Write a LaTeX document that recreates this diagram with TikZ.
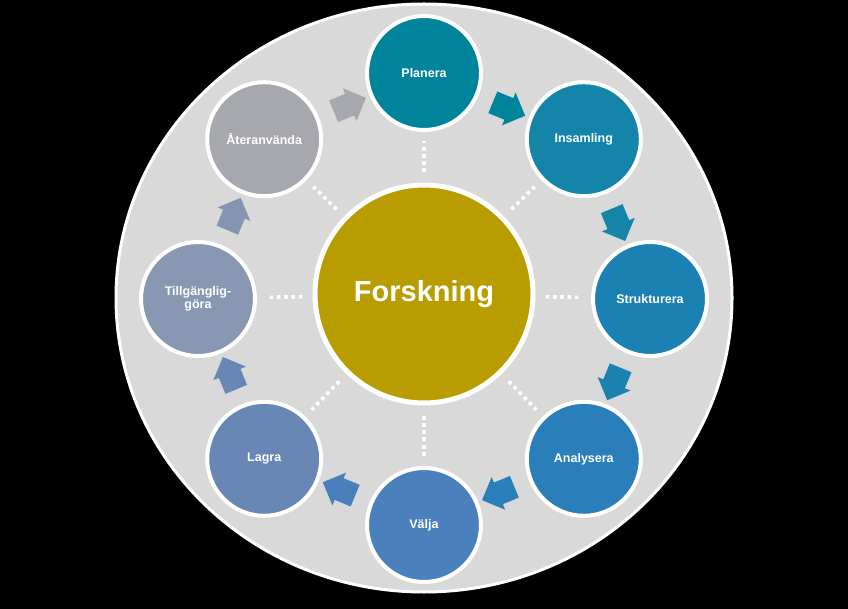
\documentclass[tikz,border=0pt]{standalone}
\usepackage{fontspec}
\setmainfont{Liberation Sans}
\usetikzlibrary{shapes.arrows}
\definecolor{bgray}{RGB}{217,217,217}
\definecolor{cgold}{RGB}{185,157,0}
\definecolor{cplan}{RGB}{0,132,155}
\definecolor{cins}{RGB}{20,133,168}
\definecolor{cstr}{RGB}{27,129,178}
\definecolor{cana}{RGB}{42,127,186}
\definecolor{cval}{RGB}{74,128,188}
\definecolor{clag}{RGB}{104,135,180}
\definecolor{ctil}{RGB}{137,152,178}
\definecolor{cate}{RGB}{166,168,173}
\definecolor{dshadow}{RGB}{175,175,175}
\tikzset{
  stage/.style={circle, minimum size=114pt, inner sep=0pt, draw=white, line width=4pt,
    text=white, align=center, font=\bfseries\fontsize{12.5}{13.5}\selectfont},
  hub/.style={circle, minimum size=218pt, inner sep=0pt, draw=white, line width=5pt,
    fill=cgold, text=white, font=\bfseries\fontsize{29}{30}\selectfont},
  blockarrow/.style={single arrow, draw=none, inner sep=0pt, inner ysep=11.5pt,
    minimum height=35pt, minimum width=0pt, single arrow head extend=6pt},
  dotline/.style={draw=white, line width=4pt, dash pattern=on 4pt off 3.3pt,
    shorten <=10pt, shorten >=9pt},
  dotshadow/.style={draw=dshadow, line width=4pt, dash pattern=on 4pt off 3.3pt,
    shorten <=10pt, shorten >=9pt}
}
\begin{document}
\begin{tikzpicture}[x=1pt,y=-1pt]
\fill[black] (0,0) rectangle (848,609);
\useasboundingbox (0,0) rectangle (848,609);
\draw[white, line width=3pt, fill=bgray] (424,298) ellipse [x radius=308, y radius=294];

\node[hub] (c) at (424,294) {Forskning};
\node[stage, fill=cplan] (plan) at (424,73) {Planera};
\node[stage, fill=cins] (ins) at (583.8,139.2) {Insamling};
\node[stage, fill=cstr] (str) at (650,299) {Strukturera};
\node[stage, fill=cana] (ana) at (583.8,458.8) {Analysera};
\node[stage, fill=cval] (val) at (424,525) {Välja};
\node[stage, fill=clag] (lag) at (264.2,458.8) {Lagra};
\node[stage, fill=ctil] (til) at (198,299) {Tillgänglig-\\göra};
\node[stage, fill=cate] (ate) at (264.2,139.2) {Återanvända};

\foreach \n in {plan,ins,str,ana,val,lag,til,ate}{
  \begin{scope}[shift={(1.2,1.5)}]
    \path[dotshadow] (c) -- (\n);
  \end{scope}
  \path[dotline] (c) -- (\n);
}

\node[blockarrow, fill=cplan, rotate=-22.5] (a1) at (503.6,106.8) {};
\node[blockarrow, fill=cins, rotate=-67.5] (a2) at (616.2,219.4) {};
\node[blockarrow, fill=cstr, rotate=-112.5] (a3) at (616.2,378.6) {};
\node[blockarrow, fill=cana, rotate=-157.5] (a4) at (503.6,491.2) {};
\node[blockarrow, fill=cval!90!cana, rotate=157.5] (a5) at (344.4,491.2) {};
\node[blockarrow, fill=clag, rotate=112.5] (a6) at (231.8,378.6) {};
\node[blockarrow, fill=ctil!85!clag, rotate=67.5] (a7) at (231.8,219.4) {};
\node[blockarrow, fill=cate, rotate=22.5] (a8) at (344.4,106.8) {};
\end{tikzpicture}
\end{document}
